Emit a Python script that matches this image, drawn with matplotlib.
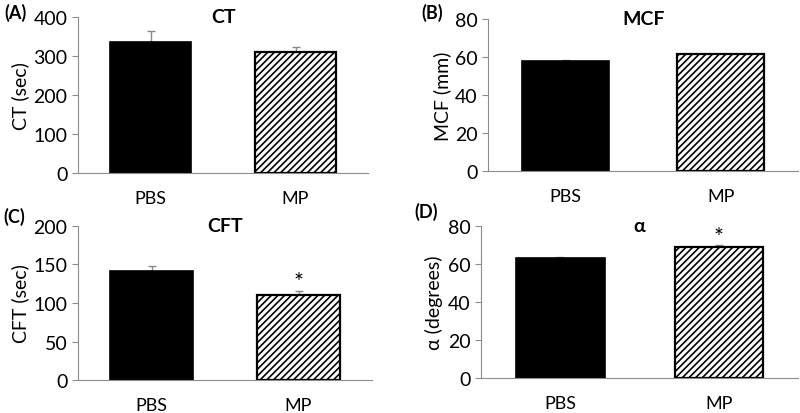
import matplotlib.pyplot as plt
import numpy as np

plt.rcParams['font.family'] = ['Lato', 'DejaVu Sans']
plt.rcParams['hatch.linewidth'] = 1.2

groups = ['PBS', 'MP']

# mean values and upper error (SEM)
ct_mean = [336, 309]
ct_err = [28, 15]
mcf_mean = [58.1, 61.4]
mcf_err = [0.3, 0.2]
cft_mean = [142, 110]
cft_err = [6, 6]
alpha_mean = [63.0, 69.0]
alpha_err = [0.9, 1.0]

panels = [
    # label, title, ylabel, means, errs, ymax, step, star, rect, label pos
    ('(A)', 'CT', 'CT (sec)', ct_mean, ct_err, 400, 100, False,
     [0.0975, 0.5797, 0.3625, 0.3768], (-0.176, 1.03)),
    ('(B)', 'MCF', 'MCF (mm)', mcf_mean, mcf_err, 80, 20, False,
     [0.61, 0.5845, 0.388, 0.3672], (-0.145, 1.046)),
    ('(C)', 'CFT', 'CFT (sec)', cft_mean, cft_err, 200, 50, True,
     [0.0975, 0.0797, 0.3675, 0.372], (-0.18, 1.065)),
    ('(D)', 'α', 'α (degrees)', alpha_mean, alpha_err, 80, 20, True,
     [0.601, 0.0838, 0.397, 0.3679], (-0.135, 1.098)),
]

fig = plt.figure(figsize=(8, 4.14), dpi=100)
axis_col = '#8c8c8c'

for label, title, ylabel, means, errs, ymax, step, star, rect, lpos in panels:
    ax = fig.add_axes(rect)
    x = np.array([0.5, 1.5])
    ax.bar(x[0], means[0], width=0.56, color='black', edgecolor='black', linewidth=1.2, zorder=2)
    ax.bar(x[1], means[1], width=0.56, color='white', edgecolor='black', linewidth=1.6,
           hatch='/////', zorder=2)
    ax.errorbar(x, means, yerr=[[0, 0], errs], fmt='none', ecolor='#888888',
                elinewidth=1, capsize=3, capthick=1, zorder=1)
    if star:
        ax.text(x[1], means[1] + errs[1] - ymax * 0.01, '*', ha='center', va='bottom',
                fontsize=17)
    ax.set_xlim(0, 2)
    ax.set_ylim(0, ymax)
    ax.set_yticks(np.arange(0, ymax + 1, step))
    ax.set_xticks(x)
    ax.set_xticklabels(groups)
    for s in ['top', 'right']:
        ax.spines[s].set_visible(False)
    ax.spines['left'].set_color(axis_col)
    ax.spines['bottom'].set_color(axis_col)
    ax.tick_params(axis='y', colors=axis_col, labelcolor='black', labelsize=14, length=4)
    ax.tick_params(axis='x', length=0, labelsize=13, pad=12)
    ax.set_ylabel(ylabel, fontsize=14, labelpad=3)
    ax.set_title(title, fontsize=14, fontweight='bold', pad=0, y=0.97)
    ax.text(lpos[0], lpos[1], label, transform=ax.transAxes, fontsize=13, fontweight='bold',
            ha='right', va='center')

fig.savefig('out.png', dpi=100)
